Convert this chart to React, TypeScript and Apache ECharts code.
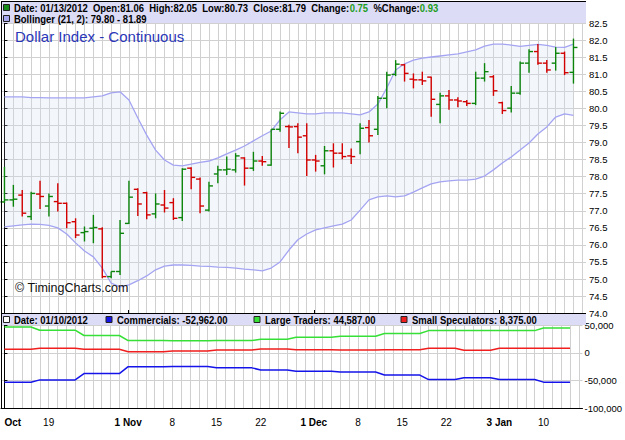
import React, { useEffect, useRef } from 'react';
import * as echarts from 'echarts';

const dates = [
  '2011-10-12','2011-10-13','2011-10-14','2011-10-17','2011-10-18','2011-10-19','2011-10-20','2011-10-21',
  '2011-10-24','2011-10-25','2011-10-26','2011-10-27','2011-10-28','2011-10-31','2011-11-01','2011-11-02',
  '2011-11-03','2011-11-04','2011-11-07','2011-11-08','2011-11-09','2011-11-10','2011-11-11','2011-11-14',
  '2011-11-15','2011-11-16','2011-11-17','2011-11-18','2011-11-21','2011-11-22','2011-11-23','2011-11-25',
  '2011-11-28','2011-11-29','2011-11-30','2011-12-01','2011-12-02','2011-12-05','2011-12-06','2011-12-07',
  '2011-12-08','2011-12-09','2011-12-12','2011-12-13','2011-12-14','2011-12-15','2011-12-16','2011-12-19',
  '2011-12-20','2011-12-21','2011-12-22','2011-12-23','2011-12-27','2011-12-28','2011-12-29','2011-12-30',
  '2012-01-03','2012-01-04','2012-01-05','2012-01-06','2012-01-09','2012-01-10','2012-01-11','2012-01-12',
  '2012-01-13'
];

const opens = [
  77.26,77.32,77.46,76.83,77.49,77.14,77.27,77.22,76.68,76.36,76.49,76.47,75.07,75.22,76.63,77.63,
  77.53,76.91,77.17,77.24,76.80,78.25,77.93,77.02,78.08,78.20,78.20,78.55,78.25,78.46,78.34,79.39,
  79.47,79.47,79.20,78.49,78.32,78.76,78.69,78.61,79.03,79.44,79.39,80.30,81.00,81.28,80.86,80.84,
  80.92,80.12,80.37,80.25,80.20,80.15,80.89,80.93,80.17,80.01,80.45,81.33,81.67,81.33,81.33,81.62,
  81.06
];
const highs = [
  78.29,77.76,77.61,77.56,77.88,77.51,77.81,77.24,76.78,76.54,76.88,76.52,75.22,76.73,77.88,77.66,
  77.56,77.51,77.61,77.37,78.25,78.28,77.98,77.85,78.32,78.59,78.69,78.57,78.73,78.61,79.39,79.91,
  79.52,79.57,79.57,78.64,78.90,78.98,78.98,78.83,79.57,79.66,80.37,81.08,81.42,81.31,81.03,81.08,
  80.93,80.46,80.54,80.33,80.25,81.08,81.33,80.98,80.20,80.66,81.38,81.74,81.89,81.42,81.80,81.67,
  82.05
];
const lows = [
  77.23,77.12,76.83,76.73,77.05,76.83,76.98,76.49,76.20,76.10,76.05,75.02,75.02,75.12,76.61,76.85,
  76.75,76.78,76.95,76.73,76.70,77.63,76.93,76.98,77.81,78.05,78.12,77.74,78.17,78.32,78.32,79.32,
  78.84,78.69,78.02,78.15,78.07,78.27,78.51,78.37,78.66,79.00,79.22,80.01,80.95,80.79,80.59,80.69,
  79.76,79.57,79.96,80.04,80.07,80.10,80.79,80.37,79.84,79.88,80.40,81.05,81.28,81.05,81.11,80.98,
  80.73
];
const closes = [
  77.32,77.34,76.93,77.51,77.42,77.42,77.22,76.65,76.29,76.39,76.51,75.07,75.22,76.34,77.40,77.20,
  76.88,77.20,77.08,76.78,78.22,77.98,77.14,77.73,78.20,78.22,78.61,78.25,78.46,78.44,79.39,79.86,
  79.46,79.16,78.49,78.46,78.76,78.69,78.59,78.59,79.42,79.20,80.30,80.98,81.30,81.03,80.84,80.81,
  80.27,80.37,80.25,80.22,80.15,80.89,81.08,80.52,79.94,80.45,81.33,81.67,81.33,81.13,81.62,81.05,
  81.79
];

const bollUpper = [
  80.34,80.34,80.34,80.32,80.32,80.31,80.31,80.31,80.31,80.31,80.34,80.37,80.46,80.49,80.25,79.72,
  79.22,78.78,78.49,78.34,78.32,78.37,78.42,78.46,78.55,78.67,78.78,78.90,79.05,79.20,79.34,79.67,
  79.90,79.87,79.84,79.84,79.87,79.87,79.87,79.84,79.81,79.90,80.13,80.60,81.13,81.31,81.42,81.48,
  81.51,81.54,81.57,81.60,81.66,81.72,81.83,81.89,81.89,81.86,81.82,81.85,81.88,81.85,81.80,81.79,
  81.89
];
const bollLower = [
  76.53,76.56,76.59,76.61,76.60,76.57,76.50,76.32,76.06,75.82,75.65,75.32,74.88,74.77,74.83,74.95,
  75.09,75.27,75.38,75.41,75.41,75.40,75.38,75.37,75.35,75.34,75.32,75.29,75.27,75.24,75.32,75.50,
  75.85,76.15,76.32,76.44,76.50,76.56,76.61,76.73,77.02,77.32,77.41,77.44,77.41,77.44,77.55,77.67,
  77.79,77.85,77.88,77.90,77.90,77.93,78.02,78.20,78.40,78.58,78.78,78.99,79.25,79.46,79.75,79.84,
  79.80
];

// Weekly Commitments of Traders (report dates)
const cotDates = [
  '2011-10-11','2011-10-18','2011-10-25','2011-11-01','2011-11-08','2011-11-15','2011-11-22',
  '2011-11-29','2011-12-06','2011-12-13','2011-12-20','2011-12-27','2012-01-03','2012-01-10'
];
const commercials = [-52990,-48900,-37600,-25000,-24800,-27200,-31000,-33500,-34800,-40200,-48300,-45000,-48300,-52962];
const largeTraders = [46550,40800,31200,22000,21600,22000,24300,28000,29800,34800,40000,40300,40000,44587];
const smallSpecs = [6440,8100,6400,2000,3200,5200,6700,5500,5000,5400,8300,4700,8300,8375];

const xLabelDates = ['2011-10-12','2011-10-19','2011-11-01','2011-11-08','2011-11-15','2011-11-22',
  '2011-12-01','2011-12-08','2011-12-15','2011-12-22','2012-01-03','2012-01-10'];
const xLabelTexts = ['Oct','19','1 Nov','8','15','22','1 Dec','8','15','22','3 Jan','10'];
const xLabelBold = [true,false,true,false,false,false,true,false,false,false,true,false];

const FONT = "'Liberation Sans', Arial, sans-serif";
const GREEN = '#0c840c';
const RED = '#d20000';
const GRID = '#d0d0d0';
const LAV = '#dcdcf6';
const NARROW = 0.862;

function fmtThousands(v: number) {
  const s = Math.abs(v).toFixed(0).replace(/\B(?=(\d{3})+(?!\d))/g, ',');
  return (v < 0 ? '-' : '') + s;
}

export default function App() {
  const ref = useRef<HTMLDivElement>(null);
  useEffect(() => {
    const el = ref.current as HTMLDivElement;
    const chart = echarts.init(el, null, { renderer: 'svg' });
    const n = dates.length;
    const allTicks: number[] = [];
    for (let i = 0; i <= n; i++) allTicks.push(i);
    const xMin = -0.39;
    const xMax = 65.41;
    const labelIdx = xLabelDates.map((d) => dates.indexOf(d));
    const monthIdx = labelIdx.filter((_, j) => xLabelBold[j]);
    const labelMap: Record<number, number> = {};
    labelIdx.forEach((k, j) => { labelMap[k] = j; });

    const cotIndexFor = (d: string) => {
      let k = 0;
      for (let j = 0; j < cotDates.length; j++) if (cotDates[j] <= d) k = j;
      return k;
    };
    const cotSeries = (arr: number[]) => dates.map((d, i) => [i, arr[cotIndexFor(d)]]);

    const ohlcData = dates.map((_, i) => [i, opens[i], highs[i], lows[i], closes[i]]);

    const HFONT = `bold 11px ${FONT}`;
    const txt = (x: number, y: number, text: string, opts: any = {}) => ({
      type: 'text', x, y, z: 110,
      scaleX: opts.scaleX !== undefined ? opts.scaleX : NARROW,
      style: {
        text, fill: opts.fill || '#000', font: opts.font || HFONT, verticalAlign: 'middle', align: 'left',
        rich: opts.rich,
      },
    });
    const sq = (x: number, y: number, fill: string) => ({
      type: 'rect', z: 110, shape: { x, y, width: 6, height: 6 }, style: { fill, stroke: '#222', lineWidth: 1 },
    });
    const greenRich = { g: { fill: '#1c9c1c', font: HFONT }, k: { fill: '#000', font: HFONT } };

    const option: any = {
      animation: false,
      backgroundColor: '#fff',
      grid: [
        { left: 1, right: 39, top: 6.2, height: 306.9 },
        { left: 1, right: 39, top: 314, height: 94.2 },
      ],
      xAxis: [
        {
          type: 'value', gridIndex: 0, min: xMin, max: xMax,
          axisLine: { show: false },
          axisTick: { show: false, customValues: allTicks },
          axisLabel: { show: false, customValues: allTicks },
          splitLine: { show: true, lineStyle: { color: GRID, width: 1 } },
        },
        {
          type: 'value', gridIndex: 1, min: xMin, max: xMax,
          axisLine: { show: true, onZero: false, lineStyle: { color: '#000', width: 1 } },
          axisTick: { show: false, customValues: allTicks },
          axisLabel: {
            show: true, customValues: labelIdx, margin: 9, color: '#000', fontFamily: FONT, fontSize: 10,
            alignMinLabel: 'left',
            formatter: (v: number) => {
              const j = labelMap[Math.round(v)];
              if (j === undefined) return '';
              return xLabelBold[j] ? `{b|${xLabelTexts[j]}}` : `{n|${xLabelTexts[j]}}`;
            },
            rich: {
              b: { fontWeight: 'bold', fontSize: 10, fontFamily: FONT, color: '#000' },
              n: { fontWeight: 'normal', fontSize: 10, fontFamily: FONT, color: '#000' },
            },
          },
          splitLine: { show: true, lineStyle: { color: GRID, width: 1 } },
        },
        {
          type: 'value', gridIndex: 1, min: xMin, max: xMax,
          axisLine: { show: false, onZero: false },
          axisTick: { show: true, customValues: monthIdx, length: 4, lineStyle: { color: '#000' } },
          axisLabel: { show: false },
          splitLine: { show: false },
        },
      ],
      yAxis: [
        {
          type: 'value', gridIndex: 0, position: 'right', min: 74, max: 83, interval: 0.5,
          axisLine: { show: true, lineStyle: { color: '#000', width: 1 } },
          axisTick: { show: true, length: 3, lineStyle: { color: '#000' } },
          axisLabel: {
            show: true, margin: 3, color: '#000', fontFamily: FONT, fontSize: 9.5,
            showMaxLabel: false, showMinLabel: true,
            formatter: (v: number) => v.toFixed(1),
          },
          splitLine: { show: true, lineStyle: { color: GRID, width: 1 } },
        },
        {
          type: 'value', gridIndex: 1, position: 'right', min: -100000, max: 70000, interval: 50000,
          axisLine: { show: true, lineStyle: { color: '#000', width: 1 } },
          axisTick: { show: true, length: 3, lineStyle: { color: '#000' } },
          axisLabel: {
            show: true, margin: 2, color: '#000', fontFamily: FONT, fontSize: 9.5,
            showMaxLabel: false,
            formatter: (v: number) => fmtThousands(v),
          },
          splitLine: { show: true, lineStyle: { color: GRID, width: 1 } },
        },
      ],
      series: [
        {
          type: 'custom', xAxisIndex: 0, yAxisIndex: 0, z: 1, silent: true,
          data: [[0, bollUpper[0]]],
          renderItem: (params: any, api: any) => {
            const pts: number[][] = [];
            for (let i = 0; i < n; i++) pts.push(api.coord([i, bollUpper[i]]));
            for (let i = n - 1; i >= 0; i--) pts.push(api.coord([i, bollLower[i]]));
            return { type: 'polygon', shape: { points: pts }, style: { fill: 'rgba(210,224,240,0.26)', stroke: 'none' } };
          },
        },
        {
          type: 'line', xAxisIndex: 0, yAxisIndex: 0, z: 2, symbol: 'none', silent: true,
          data: bollUpper.map((v, i) => [i, v]),
          lineStyle: { color: '#a4a4f2', width: 1.3 },
        },
        {
          type: 'line', xAxisIndex: 0, yAxisIndex: 0, z: 2, symbol: 'none', silent: true,
          data: bollLower.map((v, i) => [i, v]),
          lineStyle: { color: '#a4a4f2', width: 1.3 },
        },
        {
          type: 'custom', xAxisIndex: 0, yAxisIndex: 0, z: 3, silent: true,
          data: ohlcData,
          encode: { x: 0, y: [1, 2, 3, 4] },
          renderItem: (params: any, api: any) => {
            const i = api.value(0);
            const o = api.value(1), h = api.value(2), l = api.value(3), c = api.value(4);
            const ph = api.coord([i, h]);
            const pl = api.coord([i, l]);
            const po = api.coord([i, o]);
            const pc = api.coord([i, c]);
            const color = c >= o ? GREEN : RED;
            const x = ph[0];
            const w = 4;
            const st = { stroke: color, lineWidth: 1.4 };
            return {
              type: 'group',
              children: [
                { type: 'line', shape: { x1: x, y1: ph[1], x2: x, y2: pl[1] }, style: st },
                { type: 'line', shape: { x1: x - w, y1: po[1], x2: x, y2: po[1] }, style: st },
                { type: 'line', shape: { x1: x, y1: pc[1], x2: x + w, y2: pc[1] }, style: st },
              ],
            };
          },
        },
        {
          name: 'Commercials', type: 'line', xAxisIndex: 1, yAxisIndex: 1, symbol: 'none', silent: true,
          data: cotSeries(commercials), lineStyle: { color: '#1414ea', width: 1.5 },
        },
        {
          name: 'Large Traders', type: 'line', xAxisIndex: 1, yAxisIndex: 1, symbol: 'none', silent: true,
          data: cotSeries(largeTraders), lineStyle: { color: '#36e036', width: 1.5 },
        },
        {
          name: 'Small Speculators', type: 'line', xAxisIndex: 1, yAxisIndex: 1, symbol: 'none', silent: true,
          data: cotSeries(smallSpecs), lineStyle: { color: '#f01e1e', width: 1.5 },
        },
      ],
      graphic: [
        { type: 'rect', z: 100, shape: { x: 1, y: 1.5, width: 585, height: 21.5 }, style: { fill: LAV } },
        { type: 'rect', z: 100, shape: { x: 1, y: 314, width: 585, height: 11 }, style: { fill: LAV } },
        { type: 'line', z: 105, shape: { x1: 1, y1: 1.5, x2: 586, y2: 1.5 }, style: { stroke: '#000', lineWidth: 1 } },
        { type: 'line', z: 105, shape: { x1: 1.5, y1: 1, x2: 1.5, y2: 408.5 }, style: { stroke: '#000', lineWidth: 1 } },
        { type: 'line', z: 105, shape: { x1: 1, y1: 313.5, x2: 586, y2: 313.5 }, style: { stroke: '#000', lineWidth: 1 } },
        sq(3.5, 4.5, '#188c18'),
        txt(14, 8, '{k|Date: 01/13/2012  Open:81.06  High:82.05  Low:80.73  Close:81.79  Change:}{g|0.75}{k|  %Change:}{g|0.93}', { rich: greenRich }),
        sq(3.5, 15.5, '#a8a8ee'),
        txt(14, 19, 'Bollinger (21, 2): 79.80 - 81.89'),
        txt(15, 36, 'Dollar Index - Continuous', { font: `15px ${FONT}`, fill: '#2a36b8', scaleX: 1 }),
        txt(15, 288, '\u00A9 TimingCharts.com', { font: `12.5px ${FONT}`, fill: '#111', scaleX: 1 }),
        sq(3.5, 316.5, '#ffffff'),
        txt(14, 320, 'Date: 01/10/2012'),
        sq(106, 316.5, '#1414ea'),
        txt(117, 320, 'Commercials: -52,962.00'),
        sq(254, 316.5, '#36e036'),
        txt(265, 320, 'Large Traders: 44,587.00'),
        sq(401, 316.5, '#f01e1e'),
        txt(412, 320, 'Small Speculators: 8,375.00'),
      ],
    };
    chart.setOption(option);
    return () => chart.dispose();
  }, []);
  return <div ref={ref} style={{ position: 'fixed', left: 0, top: 0, width: 625, height: 440, background: '#fff' }} />;
}
